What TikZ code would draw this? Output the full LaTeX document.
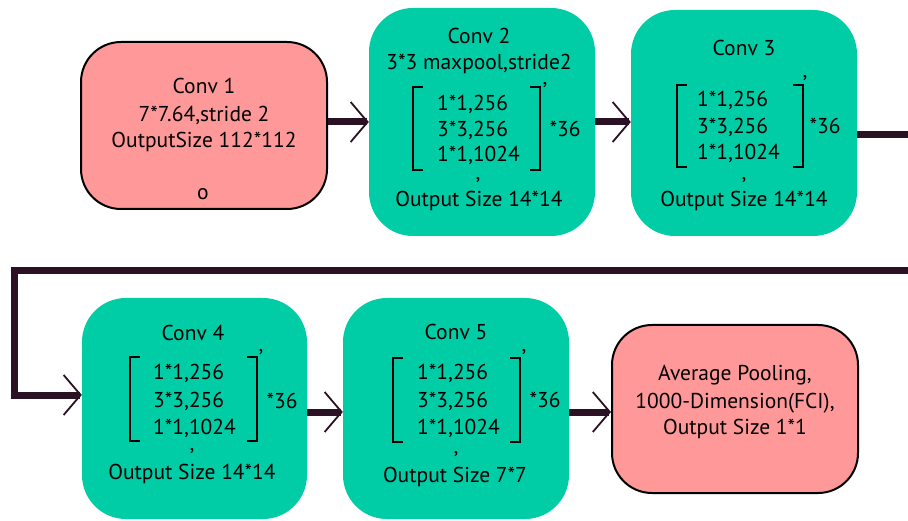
\documentclass[tikz,border=0pt]{standalone}
\usepackage{fontspec}
\setmainfont{PT Sans}
\usetikzlibrary{arrows.meta}
\definecolor{pinkf}{HTML}{FF9999}
\definecolor{greenf}{HTML}{00CCA6}
\definecolor{linec}{HTML}{2A1224}
\newcommand{\mfont}{\fontsize{21.5pt}{25pt}\selectfont}
\begin{document}
\begin{tikzpicture}[x=1pt,y=-1pt,
  pbox/.style={draw=black,line width=2pt,fill=pinkf,rounded corners=40pt,inner sep=0pt},
  gbox/.style={fill=greenf,rounded corners=44pt,inner sep=0pt,minimum width=226pt,minimum height=224pt},
  tx/.style={inner sep=0pt,anchor=base,font=\mfont},
  tl/.style={inner sep=0pt,anchor=base west,font=\mfont},
  pr/.style={inner sep=0pt,anchor=base,font=\mfont},
  brk/.style={draw=black,line width=2.2pt},
  conn/.style={draw=linec,line width=7pt,line join=miter,
    -{Straight Barb[length=17pt,width=40pt,line width=1.8pt]}}
]
\clip (0,0) rectangle (908,521);
\fill[white] (0,0) rectangle (908,521);
% boxes
\node[pbox,minimum width=246pt,minimum height=167pt] (c1) at (204,125.5) {};
\node[gbox,minimum height=228pt] (c2) at (482,122) {};
\node[gbox,minimum height=226pt] (c3) at (744,123) {};
\node[gbox,minimum width=225pt,minimum height=221pt] (c4) at (194.5,408.5) {};
\node[gbox,minimum height=221pt] (c5) at (456,408.5) {};
\node[pbox,minimum width=246pt,minimum height=168pt] (av) at (735,409) {};
% conv 1 text
\node[tx] (c1a) at (204,94) {Conv 1};
\node[tx] (c1b) at (204,122) {7*7.64,stride 2};
\node[tx] (c1c) at (204,148) {OutputSize 112*112};
\node[tx] (c1d) at (203,200) {o};
% conv 2 text
\node[tx] (c2a) at (479,44) {Conv 2};
\node[tx] (c2b) at (479,70) {3*3 maxpool,stride2};
\node[tl] (c2r1) at (437,111) {1*1,256};
\node[tl] (c2r2) at (437,137) {3*3,256};
\node[tl] (c2r3) at (437,162) {1*1,1024};
\node[pr] (c2k) at (478,180) {,};
\node[tx] (c2o) at (479,207) {Output Size 14*14};
\node[tx] (c2m) at (565,137) {*36};
\node[pr] (c2p) at (545,85) {,};
\draw[brk] (423,87) -- (413,87) -- (413,170) -- (423,170);
\draw[brk] (530,87) -- (540,87) -- (540,170) -- (530,170);
% conv 3 text
\node[tx] (c3a) at (744,56) {Conv 3};
\node[tl] (c3r1) at (697,107) {1*1,256};
\node[tl] (c3r2) at (697,134) {3*3,256};
\node[tl] (c3r3) at (697,160) {1*1,1024};
\node[pr] (c3k) at (744,180) {,};
\node[tx] (c3o) at (744,207) {Output Size 14*14};
\node[tx] (c3m) at (825,134) {*36};
\node[pr] (c3p) at (805,78) {,};
\draw[brk] (687,85) -- (677,85) -- (677,167) -- (687,167);
\draw[brk] (793,85) -- (803,85) -- (803,167) -- (793,167);
% conv 4 text
\node[tx] (c4a) at (193,341) {Conv 4};
\node[tl] (c4r1) at (153,380) {1*1,256};
\node[tl] (c4r2) at (153,407) {3*3,256};
\node[tl] (c4r3) at (153,434) {1*1,1024};
\node[pr] (c4k) at (192,450) {,};
\node[tx] (c4o) at (192,479) {Output Size 14*14};
\node[tx] (c4m) at (282,408) {*36};
\node[pr] (c4p) at (261,352) {,};
\draw[brk] (140,357) -- (130,357) -- (130,441) -- (140,441);
\draw[brk] (247,357) -- (257,357) -- (257,441) -- (247,441);
% conv 5 text
\node[tx] (c5a) at (456,340) {Conv 5};
\node[tl] (c5r1) at (417,380) {1*1,256};
\node[tl] (c5r2) at (417,407) {3*3,256};
\node[tl] (c5r3) at (417,434) {1*1,1024};
\node[pr] (c5k) at (456,453) {,};
\node[tx] (c5o) at (455,482) {Output Size 7*7};
\node[tx] (c5m) at (545,407) {*36};
\node[pr] (c5p) at (524,352) {,};
\draw[brk] (403,358) -- (393,358) -- (393,442) -- (403,442);
\draw[brk] (510,358) -- (520,358) -- (520,442) -- (510,442);
% average pooling text
\node[tx] (ava) at (735,381) {Average Pooling,};
\node[tx] (avb) at (735,408) {1000-Dimension(FCI),};
\node[tx] (avc) at (735,434) {Output Size 1*1};
% connectors
\coordinate (ya) at (0,122);
\coordinate (yb) at (0,135);
\coordinate (yc) at (0,395);
\coordinate (yd) at (0,412);
\coordinate (wr1) at (930,135);
\coordinate (wr2) at (930,271);
\coordinate (wl1) at (14,271);
\coordinate (wl2) at (14,395);
\draw[conn] (c1.east |- ya) -- (c2.west |- ya);
\draw[conn] (c2.east |- ya) -- (c3.west |- ya);
\draw[conn] (c3.east |- yb) -- (wr1) -- (wr2) -- (wl1) -- (wl2) -- (c4.west |- yc);
\draw[conn] (c4.east |- yd) -- (c5.west |- yd);
\draw[conn] (c5.east |- yd) -- (av.west |- yd);
\end{tikzpicture}
\end{document}
